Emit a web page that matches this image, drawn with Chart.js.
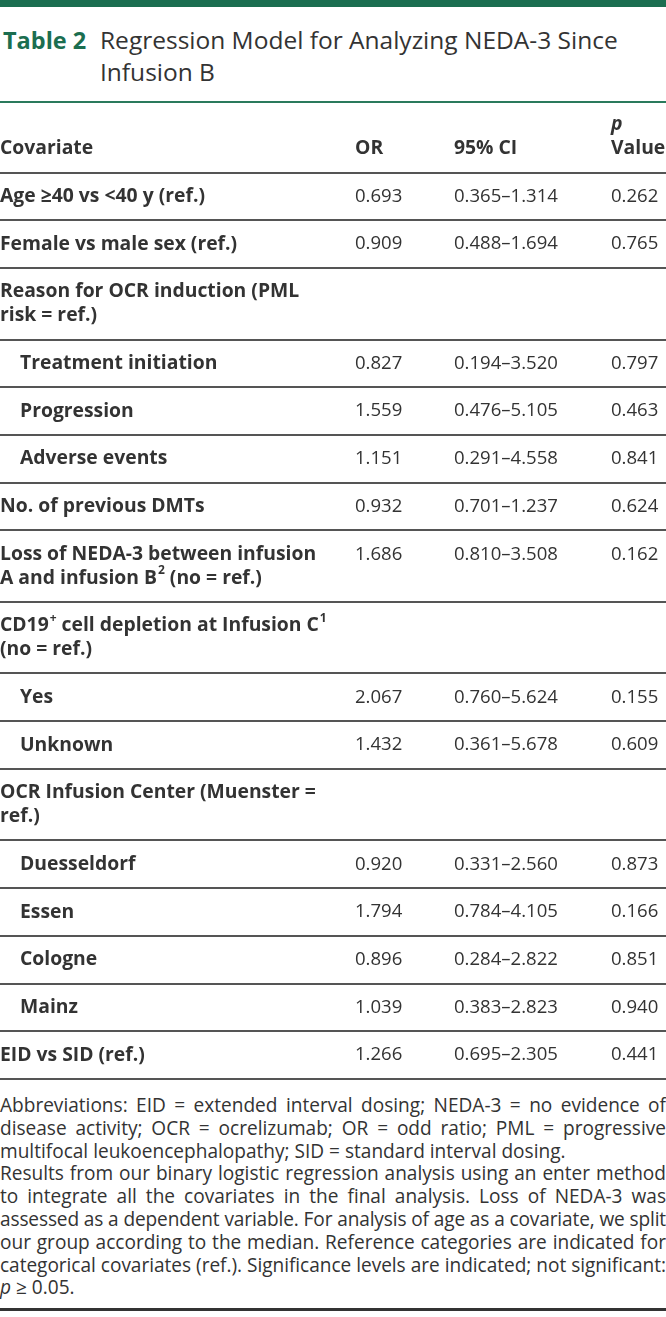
<!DOCTYPE html>
<html>
<head>
<meta charset="utf-8">
<script src="https://cdn.jsdelivr.net/npm/chart.js@4.4.1/dist/chart.umd.min.js"></script>
<style>
  html, body { margin: 0; padding: 0; background: #fff; }
  body { width: 666px; height: 1317px; position: relative; font-family: "Open Sans", "Noto Sans", sans-serif; color: #333; overflow: hidden; }
  #topbar { position: absolute; left: 0; top: 0; width: 666px; height: 7px; background: #1b6e50; }
  #title { position: absolute; left: 3px; top: 24px; width: 663px; font-size: 23.5px; line-height: 32px; }
  #title .lbl { position: absolute; left: 0; top: 0; font-weight: 700; color: #1b6e50; }
  #title .txt { position: absolute; left: 97px; top: 0; color: #333; white-space: nowrap; }
  #wrap { position: absolute; left: 0; top: 100px; width: 666px; height: 980px; }
  #notes { position: absolute; left: 0; top: 1094px; width: 666px; font-size: 18px; line-height: 22.8px; color: #333; }
  #notes div { white-space: nowrap; width: 666px; }
  #notes .j { text-align: justify; text-align-last: justify; }
  #bottomrule { position: absolute; left: 0; top: 1308px; width: 666px; height: 3px; background: #333; }
</style>
</head>
<body>
<div id="topbar"></div>
<div id="title"><span class="lbl">Table 2</span><div class="txt"><span id="t1">Regression Model for Analyzing NEDA-3 Since</span><br>Infusion B</div></div>
<div id="wrap"><canvas id="c"></canvas></div>
<div id="notes">
  <div class="j">Abbreviations: EID = extended interval dosing; NEDA-3 = no evidence of</div>
  <div class="j">disease activity; OCR = ocrelizumab; OR = odd ratio; PML = progressive</div>
  <div id="n3">multifocal leukoencephalopathy; SID = standard interval dosing.</div>
  <div class="j">Results from our binary logistic regression analysis using an enter method</div>
  <div class="j">to integrate all the covariates in the final analysis. Loss of NEDA-3 was</div>
  <div class="j">assessed as a dependent variable. For analysis of age as a covariate, we split</div>
  <div class="j">our group according to the median. Reference categories are indicated for</div>
  <div class="j">categorical covariates (ref.). Significance levels are indicated; not significant:</div>
  <div><i>p</i> ≥ 0.05.</div>
</div>
<div id="bottomrule"></div>
<script>
// ---- data ----
const headers = ["Covariate", "OR", "95% CI", "p Value"];
const covariates = [
  ["Age ≥40 vs <40 y (ref.)"],
  ["Female vs male sex (ref.)"],
  ["Reason for OCR induction (PML", "risk = ref.)"],
  ["Treatment initiation"],
  ["Progression"],
  ["Adverse events"],
  ["No. of previous DMTs"],
  ["Loss of NEDA-3 between infusion", "A and infusion B^{2} (no = ref.)"],
  ["CD19^{+} cell depletion at Infusion C^{1}", "(no = ref.)"],
  ["Yes"],
  ["Unknown"],
  ["OCR Infusion Center (Muenster =", "ref.)"],
  ["Duesseldorf"],
  ["Essen"],
  ["Cologne"],
  ["Mainz"],
  ["EID vs SID (ref.)"]
];
const indentLevel = [0,0,0,1,1,1,0,0,0,1,1,0,1,1,1,1,0];
const oddsRatios = ["0.693","0.909","","0.827","1.559","1.151","0.932","1.686","","2.067","1.432","","0.920","1.794","0.896","1.039","1.266"];
const ciLower   = ["0.365","0.488","","0.194","0.476","0.291","0.701","0.810","","0.760","0.361","","0.331","0.784","0.284","0.383","0.695"];
const ciUpper   = ["1.314","1.694","","3.520","5.105","4.558","1.237","3.508","","5.624","5.678","","2.560","4.105","2.822","2.823","2.305"];
const pValues   = ["0.262","0.765","","0.797","0.463","0.841","0.624","0.162","","0.155","0.609","","0.873","0.166","0.851","0.940","0.441"];

// ---- layout (row units derived from line counts) ----
const headerUnits = 3;
const rowUnits = covariates.map(l => l.length + 1);
const rowStart = [];
let acc = headerUnits;
rowUnits.forEach(u => { rowStart.push(acc); acc += u; });
const totalUnits = acc;

const colX = [0, 355, 454, 611];
const FONT = '"Open Sans", "Noto Sans", sans-serif';
const TEXT = '#333';

// font sizes calibrated to the reference text widths
const mctx = document.createElement('canvas').getContext('2d');
function widthAt(font, s) { mctx.font = font; return mctx.measureText(s).width; }
const boldSize = Math.min(20, Math.max(16, 17 * 205 / widthAt('700 17px ' + FONT, 'Age ≥40 vs <40 y (ref.)')));
const regSize = Math.min(20, Math.max(16, 17 * 104 / widthAt('400 17px ' + FONT, '0.365–1.314')));

function drawRich(ctx, str, x, y, bold) {
  const parts = str.split(/(\^\{[^}]*\})/).filter(s => s.length);
  let cx = x;
  const w = bold ? '700 ' : '400 ';
  parts.forEach(p => {
    if (p.startsWith('^{')) {
      const t = p.slice(2, -1);
      ctx.font = w + Math.round(boldSize * 0.62) + 'px ' + FONT;
      ctx.fillText(t, cx + 1, y - 7);
      cx += ctx.measureText(t).width + 1;
    } else {
      ctx.font = w + boldSize + 'px ' + FONT;
      ctx.fillText(p, cx, y);
      cx += ctx.measureText(p).width;
    }
  });
}

const tablePlugin = {
  id: 'tablePlugin',
  afterDraw(chart) {
    const ctx = chart.ctx;
    const ys = chart.scales.y;
    const W = chart.width;
    ctx.save();
    ctx.textBaseline = 'middle';
    // top green rule
    const y0 = ys.getPixelForValue(0);
    ctx.fillStyle = '#2a7a5c';
    ctx.fillRect(0, y0, W, 2);
    ctx.fillStyle = TEXT;
    // header
    const bf = '700 ' + boldSize + 'px ' + FONT;
    ctx.font = bf;
    ctx.fillText(headers[0], colX[0], ys.getPixelForValue(2));
    ctx.fillText(headers[1], colX[1], ys.getPixelForValue(2));
    ctx.fillText(headers[2], colX[2], ys.getPixelForValue(2));
    ctx.font = 'italic ' + bf;
    ctx.fillText(headers[3].split(' ')[0], colX[3], ys.getPixelForValue(1));
    ctx.font = bf;
    ctx.fillText(headers[3].split(' ')[1], colX[3], ys.getPixelForValue(2));
    // rules
    ctx.fillStyle = '#555';
    const ruleYs = [headerUnits].concat(rowStart.map((s, i) => s + rowUnits[i]));
    ruleYs.forEach(v => {
      const py = Math.round(ys.getPixelForValue(v)) - 1;
      ctx.fillRect(0, py, W, 2);
    });
    // rows
    ctx.fillStyle = TEXT;
    covariates.forEach((lines, i) => {
      const s = rowStart[i];
      lines.forEach((ln, k) => {
        drawRich(ctx, ln, colX[0] + indentLevel[i] * 20, ys.getPixelForValue(s + k + 1), true);
      });
      const yl = ys.getPixelForValue(s + 1);
      ctx.font = '400 ' + regSize + 'px ' + FONT;
      if (oddsRatios[i]) ctx.fillText(oddsRatios[i], colX[1], yl);
      if (ciLower[i]) ctx.fillText(ciLower[i] + '–' + ciUpper[i], colX[2], yl);
      if (pValues[i]) ctx.fillText(pValues[i], colX[3], yl);
    });
    ctx.restore();
  }
};

new Chart(document.getElementById('c'), {
  type: 'scatter',
  data: { datasets: [{ data: [], pointRadius: 0 }] },
  options: {
    responsive: true,
    maintainAspectRatio: false,
    animation: false,
    events: [],
    layout: { padding: { top: 1, bottom: 1, left: 0, right: 0 } },
    plugins: { legend: { display: false }, tooltip: { enabled: false } },
    scales: {
      x: { type: 'linear', min: 0, max: 666, display: false },
      y: { type: 'linear', min: 0, max: totalUnits, reverse: true, display: false }
    }
  },
  plugins: [tablePlugin]
});

// title width fit
(function () {
  const t1 = document.getElementById('t1');
  const w = t1.getBoundingClientRect().width;
  const size = 23.5 * 518 / w;
  document.querySelector('#title .txt').style.fontSize = Math.min(26, Math.max(22, size)) + 'px';
})();

// footnote fit
(function () {
  const notes = document.getElementById('notes');
  const n3 = document.getElementById('n3');
  const probe = document.createElement('span');
  probe.textContent = n3.textContent;
  probe.style.whiteSpace = 'nowrap';
  n3.textContent = '';
  n3.appendChild(probe);
  const w = probe.getBoundingClientRect().width;
  const size = Math.min(20, Math.max(15, 18 * 566 / w));
  notes.style.fontSize = size + 'px';
  document.querySelectorAll('#notes div').forEach(d => {
    const sp = document.createElement('span');
    sp.innerHTML = d.innerHTML;
    sp.style.whiteSpace = 'nowrap';
    const holder = document.createElement('div');
    holder.style.cssText = 'position:absolute;visibility:hidden;white-space:nowrap;font-size:' + size + 'px;';
    holder.appendChild(sp);
    document.body.appendChild(holder);
    let nat = sp.getBoundingClientRect().width;
    const nchars = d.textContent.length;
    const nspaces = d.textContent.trim().split(/\s+/).length - 1;
    if (nat > 666) {
      let over = nat - 666 + 1;
      const ls = Math.max(-0.35, -over / nchars);
      d.style.letterSpacing = ls + 'px';
      over += ls * nchars;
      if (over > 0) d.style.wordSpacing = (-over / Math.max(nspaces, 1)) + 'px';
    }
    holder.remove();
  });
})();
</script>
</body>
</html>
